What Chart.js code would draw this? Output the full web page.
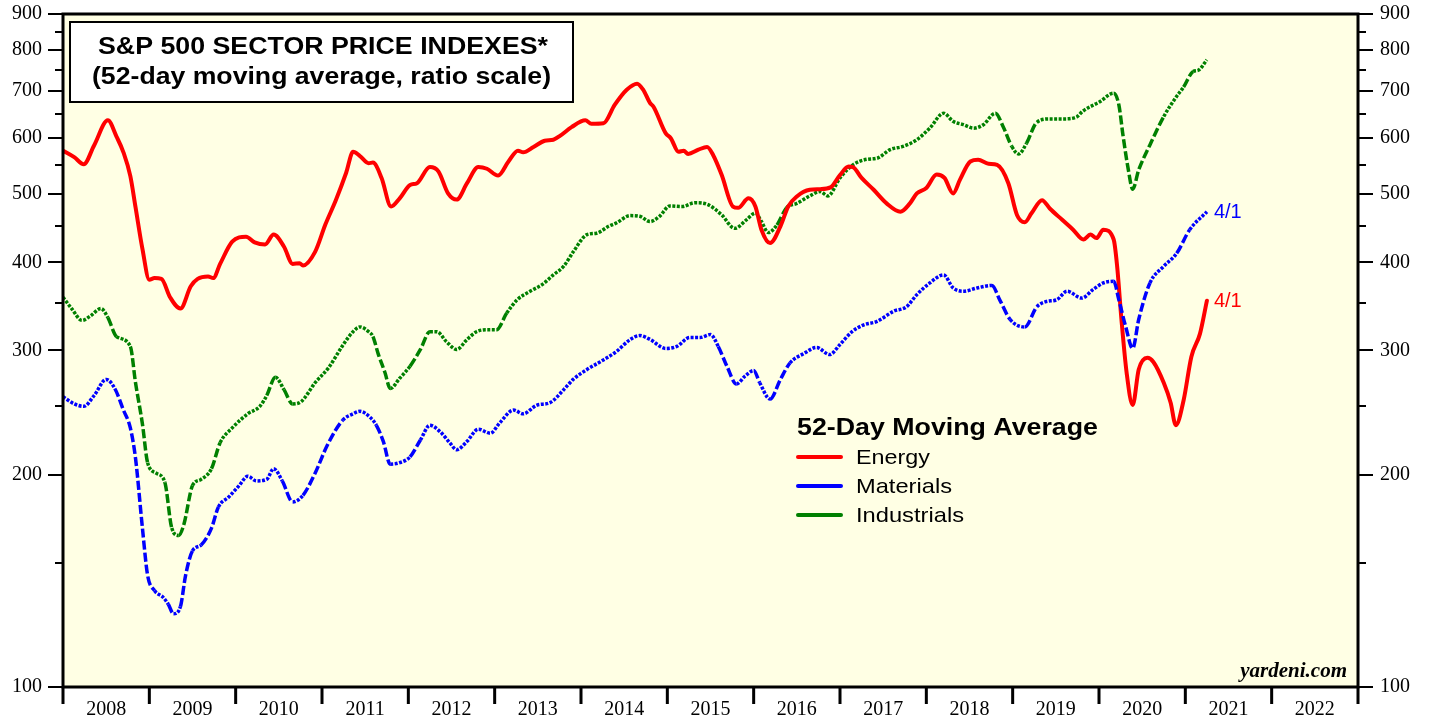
<!DOCTYPE html>
<html>
<head>
<meta charset="utf-8">
<script src="https://cdn.jsdelivr.net/npm/chart.js@4.4.1/dist/chart.umd.min.js"></script>
<style>
  html, body { margin: 0; padding: 0; background: #ffffff; }
  #wrap { width: 1429px; height: 721px; }
</style>
</head>
<body>
<div id="wrap"><canvas id="c" width="1429" height="721"></canvas></div>
<script>
// ---------------- DATA ----------------
const years = [2008,2009,2010,2011,2012,2013,2014,2015,2016,2017,2018,2019,2020,2021,2022];
const yTickLabels = [100,200,300,400,500,600,700,800,900];
const yMinorTicks = [150,250,350,450,550,650,750,850];

const energyDates = [2008.00,2008.13,2008.24,2008.36,2008.52,2008.62,2008.70,2008.78,2008.84,2008.92,
  2009.00,2009.06,2009.14,2009.24,2009.36,2009.48,2009.56,2009.68,2009.74,2009.82,2009.96,
  2010.12,2010.22,2010.34,2010.44,2010.56,2010.66,2010.74,2010.78,2010.92,
  2011.04,2011.16,2011.28,2011.36,2011.44,2011.54,2011.59,2011.69,2011.80,2011.90,
  2012.02,2012.10,2012.25,2012.35,2012.46,2012.56,2012.68,2012.81,2012.91,
  2013.04,2013.16,2013.27,2013.33,2013.45,2013.58,2013.68,2013.76,2013.89,
  2014.05,2014.12,2014.26,2014.39,2014.53,2014.65,2014.72,2014.80,2014.84,2014.98,
  2015.04,2015.13,2015.19,2015.24,2015.36,2015.46,2015.53,2015.63,2015.76,2015.82,2015.94,
  2016.02,2016.09,2016.19,2016.31,2016.40,2016.50,2016.65,2016.77,2016.89,
  2017.00,2017.10,2017.15,2017.25,2017.39,2017.54,2017.70,2017.81,2017.89,
  2018.00,2018.12,2018.21,2018.31,2018.39,2018.51,2018.60,2018.72,2018.82,2018.95,
  2019.05,2019.14,2019.22,2019.34,2019.43,2019.57,2019.70,2019.82,2019.90,2019.97,
  2020.05,2020.17,2020.21,2020.26,2020.32,2020.39,2020.46,2020.56,2020.63,2020.75,2020.83,2020.89,2020.98,
  2021.07,2021.17,2021.25];
const energyValues = [576,564,551,586,636,603,573,530,479,418,
  378,380,379,357,344,370,379,382,380,398,428,
  435,427,424,438,421,398,399,396,414,
  453,490,536,574,566,553,554,527,480,493,
  515,518,546,538,501,491,518,546,543,
  531,556,576,573,583,595,597,605,622,
  636,629,630,669,703,717,703,673,665,610,
  600,574,576,570,578,583,568,532,480,478,493,
  480,445,426,450,480,496,507,508,511,
  532,547,546,527,507,485,472,485,501,
  510,533,527,501,524,556,559,552,550,518,
  467,456,470,490,477,460,445,431,438,433,
  445,431,395,332,279,251,282,293,289,270,253,235,255,
  294,317,353];

const materialsDates = [2008.00,2008.13,2008.24,2008.36,2008.50,2008.60,2008.70,2008.78,2008.84,2008.92,2008.98,
  2009.06,2009.16,2009.22,2009.28,2009.36,2009.42,2009.50,2009.60,2009.72,2009.80,2009.92,
  2010.04,2010.14,2010.24,2010.36,2010.44,2010.54,2010.66,2010.78,2010.92,
  2011.06,2011.24,2011.36,2011.44,2011.56,2011.63,2011.71,2011.79,2011.90,
  2012.02,2012.14,2012.25,2012.37,2012.48,2012.56,2012.68,2012.81,2012.95,
  2013.06,2013.22,2013.33,2013.49,2013.64,2013.80,2013.91,
  2014.07,2014.22,2014.41,2014.57,2014.68,2014.80,2014.98,
  2015.11,2015.26,2015.38,2015.50,2015.59,2015.69,2015.80,2015.90,
  2016.00,2016.07,2016.19,2016.31,2016.42,2016.58,2016.73,2016.88,
  2017.00,2017.14,2017.27,2017.43,2017.62,2017.77,2017.89,
  2018.04,2018.20,2018.31,2018.43,2018.59,2018.76,2018.85,2018.97,
  2019.14,2019.28,2019.39,2019.51,2019.63,2019.80,2019.93,
  2020.05,2020.17,2020.23,2020.31,2020.39,2020.46,2020.59,2020.75,2020.90,
  2021.05,2021.25];
const materialsValues = [258,252,250,259,273,265,247,233,211,168,144,
  137,134,131,127,130,144,156,159,168,180,186,
  193,199,196,197,204,196,183,187,201,
  220,239,244,246,241,235,223,207,208,
  212,224,235,230,222,217,223,232,229,
  237,247,244,251,253,264,273,
  282,289,299,311,315,311,302,
  304,313,313,316,304,285,269,276,
  281,270,256,273,288,297,303,296,
  306,319,326,330,341,346,360,
  374,384,368,364,368,371,354,332,
  324,346,352,354,364,356,366,
  374,376,354,324,302,332,374,395,412,
  445,472];

const industrialsDates = [2008.00,2008.10,2008.22,2008.32,2008.44,2008.52,2008.62,2008.78,2008.84,2008.92,2008.98,
  2009.08,2009.18,2009.26,2009.34,2009.40,2009.50,2009.60,2009.72,2009.82,2009.96,
  2010.14,2010.28,2010.36,2010.46,2010.56,2010.66,2010.76,2010.92,
  2011.08,2011.24,2011.36,2011.44,2011.54,2011.59,2011.65,2011.73,2011.79,2011.90,
  2012.02,2012.14,2012.25,2012.33,2012.44,2012.56,2012.68,2012.79,2012.91,
  2013.02,2013.14,2013.26,2013.41,2013.55,2013.68,2013.80,2013.91,
  2014.07,2014.18,2014.32,2014.41,2014.57,2014.68,2014.80,2014.91,
  2015.03,2015.17,2015.32,2015.47,2015.63,2015.78,2015.92,
  2016.02,2016.09,2016.17,2016.27,2016.38,2016.50,2016.65,2016.77,2016.86,
  2017.00,2017.15,2017.31,2017.43,2017.58,2017.73,2017.89,
  2018.04,2018.20,2018.31,2018.43,2018.55,2018.66,2018.80,2018.89,2018.99,
  2019.07,2019.16,2019.28,2019.43,2019.59,2019.74,2019.81,
  2020.01,2020.17,2020.23,2020.28,2020.34,2020.39,2020.46,2020.59,2020.75,2020.90,2020.98,
  2021.09,2021.15,2021.25];
const industrialsValues = [357,344,331,336,344,334,314,304,270,236,208,
  201,195,168,164,170,193,197,204,222,233,
  244,250,259,275,264,252,254,270,
  284,305,319,324,319,314,297,279,265,274,
  285,301,319,319,309,301,311,319,321,
  321,339,354,364,372,384,395,414,
  438,440,450,455,466,465,457,465,
  481,480,486,483,467,447,460,
  470,457,441,452,478,485,497,504,497,
  527,550,560,562,578,584,597,
  620,651,634,627,620,627,651,623,584,
  570,590,632,639,639,643,655,
  676,695,669,603,541,508,541,587,644,688,709,
  746,749,775];

const seriesNames = ['Energy','Materials','Industrials'];
const seriesColors = ['#ff0000','#0000ff','#008000'];
const endLabel = '4/1';

// ---------------- helpers ----------------
function pts(d, v) { return d.map((x, i) => ({ x: x, y: v[i] })); }
function dashSeg(ctx) {
  const dx = Math.abs(ctx.p1.x - ctx.p0.x), dy = Math.abs(ctx.p1.y - ctx.p0.y);
  return dy > 1.6 * dx ? [9, 3] : [3, 1.5];
}
function fitText(ctx, text, left, y, font, targetW) {
  ctx.font = font;
  const w = ctx.measureText(text).width;
  const s = targetW / w;
  ctx.save();
  ctx.translate(left, y);
  ctx.scale(s, 1);
  ctx.textAlign = 'left';
  ctx.textBaseline = 'middle';
  ctx.fillText(text, 0, 0);
  ctx.restore();
}
function zeroPad(scale) {
  scale.paddingTop = 0; scale.paddingBottom = 0; scale.paddingLeft = 0; scale.paddingRight = 0;
}

const SERIF = '"Liberation Serif", "Times New Roman", serif';
const SANS = '"Liberation Sans", Arial, Helvetica, sans-serif';

const decor = {
  id: 'decor',
  beforeDatasetsDraw(chart) {
    const { ctx, chartArea: a } = chart;
    ctx.save();
    ctx.fillStyle = 'rgb(255,255,228)';
    ctx.fillRect(a.left, a.top, a.right - a.left, a.bottom - a.top);
    ctx.restore();
  },
  afterDatasetsDraw(chart) {
    const { ctx, chartArea: a } = chart;
    const ys = chart.scales.y, xs = chart.scales.x;
    ctx.save();
    // frame
    ctx.strokeStyle = '#000';
    ctx.lineWidth = 3;
    ctx.strokeRect(a.left, a.top, a.right - a.left, a.bottom - a.top);
    // y ticks both sides
    ctx.lineWidth = 2;
    ctx.beginPath();
    yTickLabels.concat(yMinorTicks).forEach(v => {
      const y = Math.round(ys.getPixelForValue(v));
      const len = yTickLabels.includes(v) ? 15 : 8;
      ctx.moveTo(a.left - len, y); ctx.lineTo(a.left, y);
      ctx.moveTo(a.right, y); ctx.lineTo(a.right + len, y);
    });
    ctx.stroke();
    // x ticks at year boundaries
    ctx.lineWidth = 3;
    ctx.beginPath();
    years.concat([years[years.length - 1] + 1]).forEach(yr => {
      const x = xs.getPixelForValue(yr);
      ctx.moveTo(x, a.bottom); ctx.lineTo(x, a.bottom + 17);
    });
    ctx.stroke();

    // title box
    ctx.fillStyle = '#fff';
    ctx.fillRect(70, 22, 503, 80);
    ctx.lineWidth = 2;
    ctx.strokeRect(70, 22, 503, 80);
    ctx.fillStyle = '#000';
    fitText(ctx, 'S&P 500 SECTOR PRICE INDEXES*', 98, 48, 'bold 23px ' + SANS, 450);
    fitText(ctx, '(52-day moving average, ratio scale)', 92, 78, 'bold 23px ' + SANS, 459);

    // legend
    fitText(ctx, '52-Day Moving Average', 797, 429, 'bold 23px ' + SANS, 301);
    const legW = [74, 96, 108];
    seriesNames.forEach((n, i) => {
      const y = 457 + i * 29;
      ctx.strokeStyle = seriesColors[i];
      ctx.lineWidth = 4;
      ctx.lineCap = 'round';
      ctx.beginPath(); ctx.moveTo(798, y); ctx.lineTo(841, y); ctx.stroke();
      ctx.fillStyle = '#000';
      fitText(ctx, n, 856, y + 1, '21px ' + SANS, legW[i]);
    });

    // end labels
    ctx.font = '20px ' + SANS;
    ctx.textAlign = 'left';
    ctx.textBaseline = 'middle';
    const lastE = energyDates.length - 1, lastM = materialsDates.length - 1;
    ctx.fillStyle = seriesColors[1];
    ctx.fillText(endLabel, xs.getPixelForValue(materialsDates[lastM]) + 7, ys.getPixelForValue(materialsValues[lastM]) + 1);
    ctx.fillStyle = seriesColors[0];
    ctx.fillText(endLabel, xs.getPixelForValue(energyDates[lastE]) + 7, ys.getPixelForValue(energyValues[lastE]) + 1);

    // source
    ctx.fillStyle = '#000';
    ctx.font = 'italic bold 21px ' + SERIF;
    ctx.textAlign = 'right';
    ctx.fillText('yardeni.com', 1347, 672);
    ctx.restore();
  }
};

const yAxisCommon = {
  type: 'logarithmic',
  min: 100,
  max: 900,
  grid: { display: false, drawTicks: false },
  border: { display: false },
  afterBuildTicks(scale) { scale.ticks = yTickLabels.map(v => ({ value: v })); },
  ticks: {
    autoSkip: false,
    color: '#000',
    font: { family: SERIF, size: 20 },
    callback: v => String(v)
  }
};

new Chart(document.getElementById('c'), {
  type: 'line',
  data: {
    datasets: [
      { label: seriesNames[1], data: pts(materialsDates, materialsValues), borderColor: seriesColors[1],
        borderWidth: 3.5, borderCapStyle: 'butt', segment: { borderDash: dashSeg } },
      { label: seriesNames[0], data: pts(energyDates, energyValues), borderColor: seriesColors[0],
        borderWidth: 4, borderCapStyle: 'round' },
      { label: seriesNames[2], data: pts(industrialsDates, industrialsValues), borderColor: seriesColors[2],
        borderWidth: 3.5, borderCapStyle: 'butt', segment: { borderDash: dashSeg } }
    ]
  },
  options: {
    responsive: false,
    animation: false,
    devicePixelRatio: 1,
    layout: { padding: { top: 14, left: 0, right: 0, bottom: 0 } },
    elements: { point: { radius: 0 }, line: { cubicInterpolationMode: 'monotone', fill: false, borderJoinStyle: 'round' } },
    plugins: { legend: { display: false }, tooltip: { enabled: false }, title: { display: false } },
    scales: {
      x: {
        type: 'linear',
        min: years[0],
        max: years[years.length - 1] + 1,
        grid: { display: false, drawTicks: false },
        border: { display: false },
        afterBuildTicks(scale) { scale.ticks = years.map(y => ({ value: y + 0.5 })); },
        afterFit(scale) { scale.height = 34; zeroPad(scale); },
        ticks: {
          autoSkip: false, maxRotation: 0, padding: 11, color: '#000',
          font: { family: SERIF, size: 20 },
          callback: v => String(Math.floor(v))
        }
      },
      y: Object.assign({}, yAxisCommon, {
        position: 'left',
        afterFit(scale) { scale.width = 63; zeroPad(scale); },
        ticks: Object.assign({}, yAxisCommon.ticks, { padding: 21 })
      }),
      y2: Object.assign({}, yAxisCommon, {
        position: 'right',
        afterFit(scale) { scale.width = 71; zeroPad(scale); },
        ticks: Object.assign({}, yAxisCommon.ticks, { padding: 22 })
      })
    }
  },
  plugins: [decor]
});
</script>
</body>
</html>
